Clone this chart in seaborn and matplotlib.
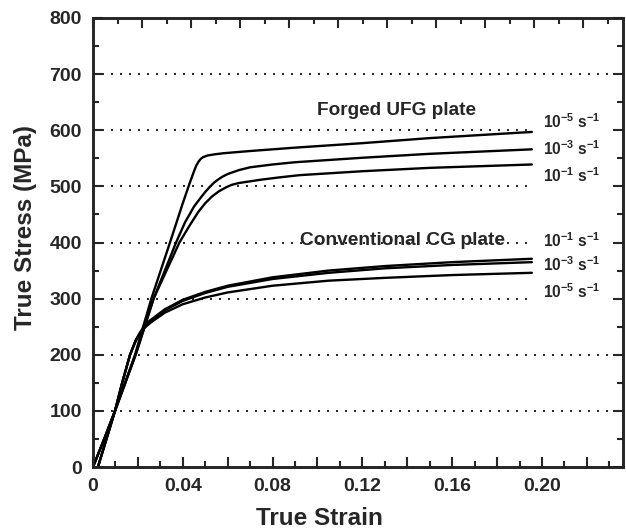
import numpy as np
import pandas as pd
import matplotlib
matplotlib.use("Agg")
import matplotlib.pyplot as plt
import seaborn as sns
from matplotlib.ticker import MultipleLocator, FixedLocator

# ---------------- data ----------------
ufg_5_strain = [0.0022, 0.0098, 0.0187, 0.026, 0.0343, 0.040, 0.043, 0.045, 0.046, 0.047, 0.048, 0.049, 0.051, 0.054, 0.058, 0.070, 0.090, 0.120, 0.150, 0.1955]
ufg_5_stress = [0, 100, 200, 300, 400, 470, 505, 527, 537, 544, 549, 552, 555, 557, 559, 563, 569, 577, 586, 597]

ufg_3_strain = [0.0022, 0.0098, 0.019, 0.027, 0.037, 0.041, 0.045, 0.048, 0.050, 0.052, 0.054, 0.056, 0.058, 0.060, 0.065, 0.070, 0.080, 0.090, 0.120, 0.150, 0.1955]
ufg_3_stress = [0, 100, 200, 300, 400, 436, 464, 480, 490, 499, 507, 513, 518, 522, 529, 534, 539, 543, 551, 558, 566]

ufg_1_strain = [0.0022, 0.0098, 0.019, 0.027, 0.0385, 0.043, 0.047, 0.050, 0.053, 0.056, 0.0596, 0.062, 0.065, 0.070, 0.075, 0.083, 0.092, 0.120, 0.150, 0.1955]
ufg_1_stress = [0, 100, 200, 300, 400, 430, 455, 470, 482, 491, 499, 503, 506, 509, 512, 516, 520, 527, 533, 539]

cg_strain = [0, 0.005, 0.0098, 0.013, 0.0165, 0.019, 0.021, 0.023, 0.025, 0.027, 0.032, 0.040, 0.050, 0.060, 0.080, 0.105, 0.130, 0.160, 0.1955]
cg_1_stress = [0, 50, 100, 150, 200, 226, 240, 252, 260, 266, 281, 298, 312, 323, 338, 350, 358, 365, 371]
cg_3_stress = [0, 50, 100, 150, 200, 225, 239, 250, 258, 264, 279, 296, 310, 321, 335, 346, 354, 360, 365]
cg_5_stress = [0, 50, 100, 150, 200, 224, 238, 248, 255, 261, 275, 290, 302, 311, 323, 332, 337, 342, 346]

xtick_values = [0, 0.02, 0.04, 0.06, 0.08, 0.10, 0.12, 0.14, 0.16, 0.18, 0.20, 0.22]
xtick_labels = ['0', '', '0.04', '', '0.08', '', '0.12', '', '0.16', '', '0.20', '']
ytick_values = [0, 100, 200, 300, 400, 500, 600, 700, 800]

group_titles = ['Forged UFG plate', 'Conventional CG plate']
ufg_rate_labels = ['-5', '-3', '-1']
cg_rate_labels = ['-1', '-3', '-5']
ufg_label_stress = [615, 568, 520]
cg_label_stress = [404, 360, 312]

# ---------------- build table ----------------
frames = []
for name, xs, ys in [('UFG 1e-5', ufg_5_strain, ufg_5_stress),
                     ('UFG 1e-3', ufg_3_strain, ufg_3_stress),
                     ('UFG 1e-1', ufg_1_strain, ufg_1_stress),
                     ('CG 1e-1', cg_strain, cg_1_stress),
                     ('CG 1e-3', cg_strain, cg_3_stress),
                     ('CG 1e-5', cg_strain, cg_5_stress)]:
    frames.append(pd.DataFrame({'strain': xs, 'stress': ys, 'curve': name}))
df = pd.concat(frames, ignore_index=True)

# ---------------- style ----------------
sns.set_style('ticks')
plt.rcParams['font.family'] = ['Liberation Sans', 'DejaVu Sans']
plt.rcParams['font.weight'] = 'bold'
plt.rcParams['mathtext.fontset'] = 'custom'
plt.rcParams['mathtext.rm'] = 'Liberation Sans:bold'
plt.rcParams['mathtext.bf'] = 'Liberation Sans:bold'
plt.rcParams['mathtext.it'] = 'Liberation Sans:bold'
plt.rcParams['mathtext.sf'] = 'Liberation Sans:bold'

fig = plt.figure(figsize=(6.26, 5.28), dpi=100)
ax = fig.add_axes([93 / 626, 1 - 467 / 528, 530 / 626, 449 / 528])
ax.set_axisbelow(True)

sns.lineplot(data=df, x='strain', y='stress', hue='curve', units='curve',
             estimator=None, sort=False, palette=['black'] * 6,
             linewidth=1.7, legend=False, ax=ax, zorder=3)

ax.set_xlim(0, 0.2361)
ax.set_ylim(0, 800)

# grid: dotted horizontal lines
for v in ytick_values[1:-1]:
    ax.axhline(v, color='black', linestyle=(0, (1.2, 4.2)), linewidth=1.2, zorder=0.5)

ax.xaxis.set_major_locator(FixedLocator(xtick_values))
ax.set_xticklabels(xtick_labels)
ax.xaxis.set_minor_locator(MultipleLocator(0.01))
ax.set_yticks(ytick_values)
ax.yaxis.set_minor_locator(MultipleLocator(50))

ax.tick_params(which='both', direction='in', left=True, right=True, bottom=True, top=False,
               width=1.5, labelsize=14, pad=8)
ax.tick_params(which='major', length=7)
ax.tick_params(which='minor', length=4)
for lab in ax.get_xticklabels() + ax.get_yticklabels():
    lab.set_fontweight('bold')

for s in ax.spines.values():
    s.set_visible(True)
    s.set_linewidth(1.8)
    s.set_color('black')

# top axis (slightly different scale in the reference)
axt = ax.twiny()
axt.set_xlim(0, 0.2163)
axt.xaxis.set_major_locator(MultipleLocator(0.02))
axt.xaxis.set_minor_locator(MultipleLocator(0.01))
axt.tick_params(which='both', direction='in', top=True, labeltop=False, bottom=False, width=1.5)
axt.tick_params(which='major', length=7)
axt.tick_params(which='minor', length=4)
for s in axt.spines.values():
    s.set_linewidth(1.8)

ax.set_xlabel('True Strain', fontsize=17.5, fontweight='bold')
ax.set_ylabel('True Stress (MPa)', fontsize=17.5, fontweight='bold')
ax.xaxis.set_label_coords(0.428, -0.088)
ax.yaxis.set_label_coords(-0.106, 0.534)

# annotations
ax.text(0.1354, 636, group_titles[0], fontsize=13.7, fontweight='bold', ha='center', va='center', zorder=4)
ax.text(0.138, 404, group_titles[1], fontsize=13.8, fontweight='bold', ha='center', va='center', zorder=4)

bbox = dict(boxstyle='square,pad=0.6', facecolor='white', edgecolor='none')
for lab, yv in zip(ufg_rate_labels, ufg_label_stress):
    ax.text(0.2005, yv, r'10$^{' + lab + r'}$ s$^{-1}$', fontsize=11.2, fontweight='bold',
            ha='left', va='center', bbox=bbox, zorder=4)
for lab, yv in zip(cg_rate_labels, cg_label_stress):
    ax.text(0.2005, yv, r'10$^{' + lab + r'}$ s$^{-1}$', fontsize=11.2, fontweight='bold',
            ha='left', va='center', bbox=bbox, zorder=4)

fig.savefig('out.png', dpi=100)
